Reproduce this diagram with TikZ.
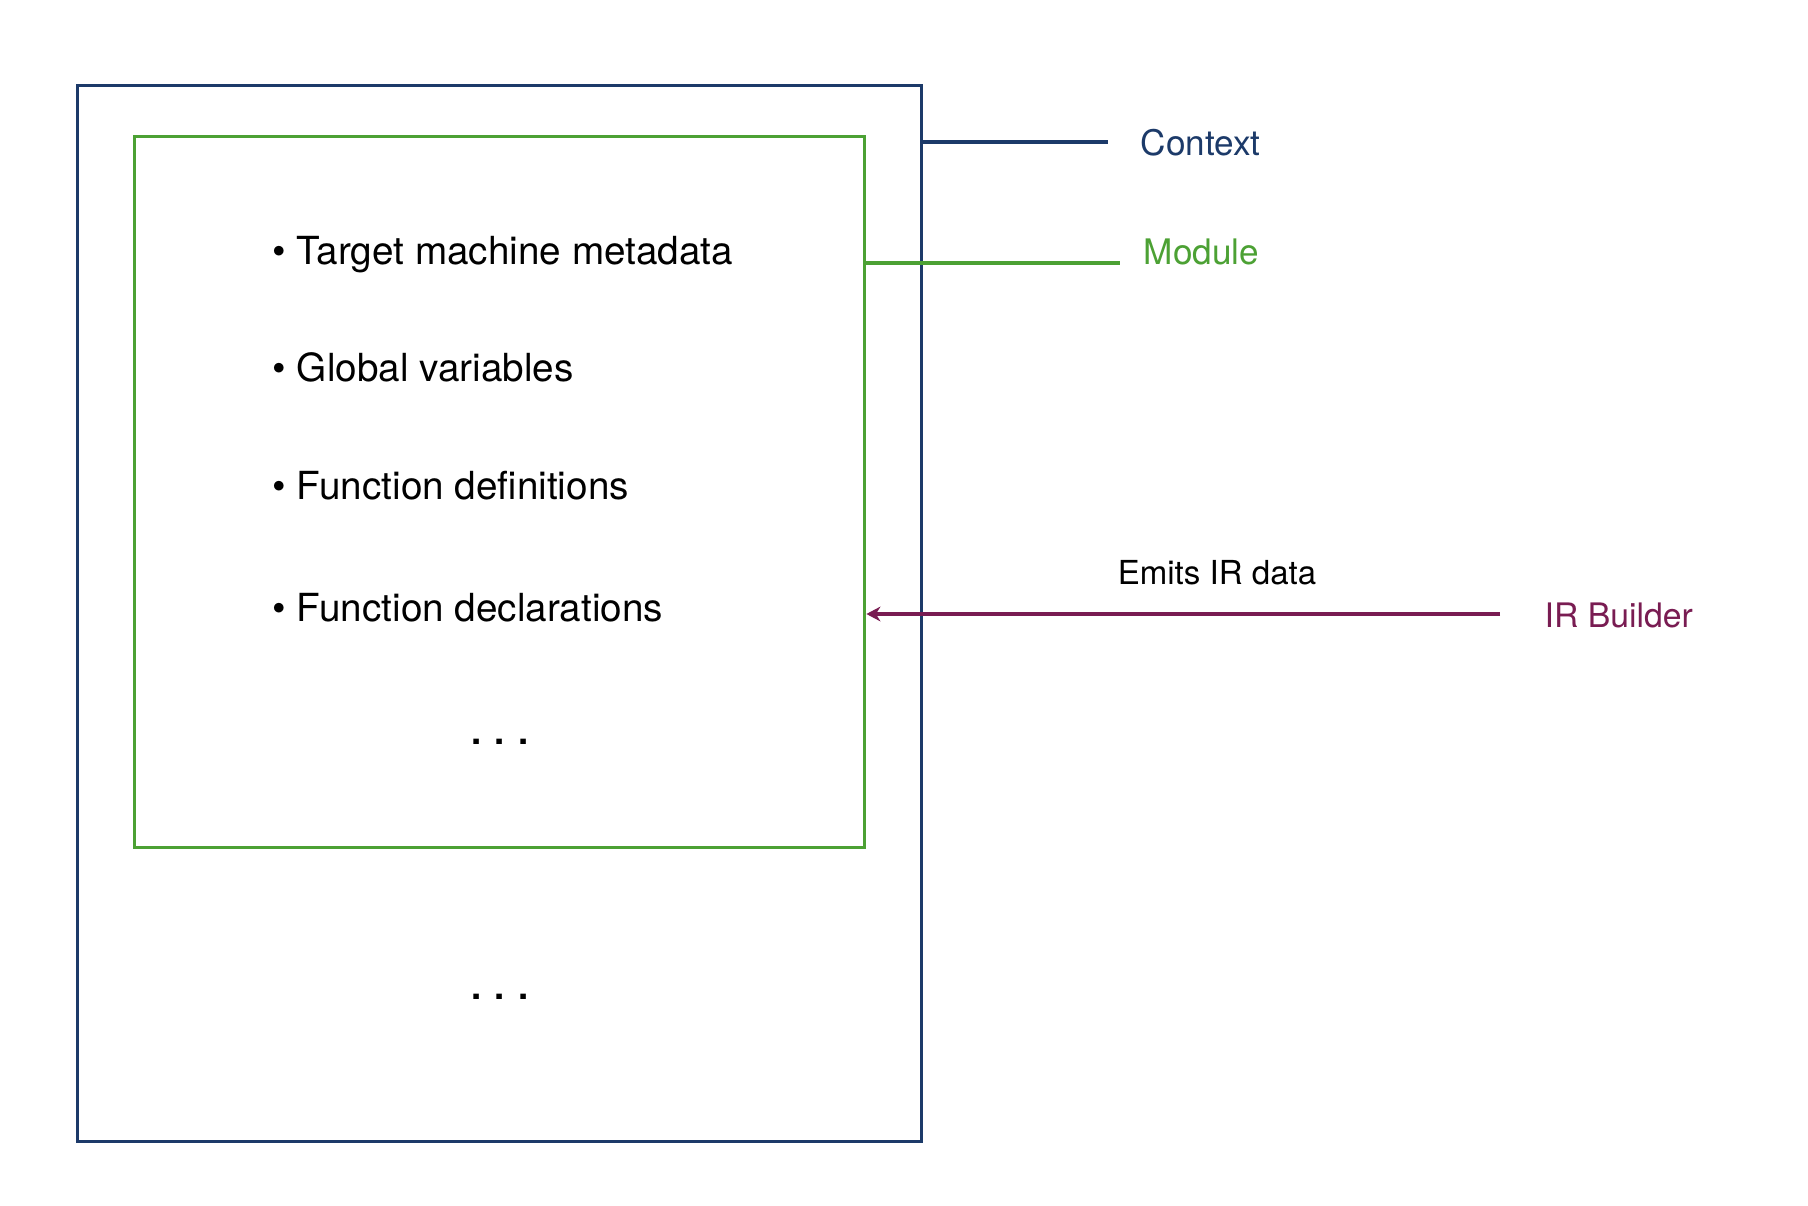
\documentclass[tikz,border=0pt]{standalone}
\usepackage{fontspec}
\setmainfont{TeX Gyre Heros}
\usetikzlibrary{arrows.meta, positioning}
\definecolor{ctxBlue}{RGB}{28, 58, 105}
\definecolor{modGreen}{RGB}{76, 161, 52}
\definecolor{irPurple}{RGB}{121, 28, 82}

\begin{document}
\begin{tikzpicture} [
        x=0.01cm, y=-0.01cm,
        ctx/.style={draw=ctxBlue, line width=0.95pt},
        mod/.style={draw=modGreen, line width=0.95pt},
        item/.style={anchor=base west, inner sep=0pt, font=\fontsize{11}{13}\selectfont},
        dots/.style={anchor=base, inner sep=0pt, font=\bfseries\fontsize{10.4}{12}\selectfont},
        lbl/.style={anchor=west, inner sep=0pt, font=\fontsize{10}{12}\selectfont}
    ]
        \useasboundingbox (0, 0) rectangle (1808, 1206);

        % CONTEXT + MODULE boxes
        \node [ctx, minimum width=8.43cm, minimum height=10.55cm] (context) at (499.5, 613.5) {};
        \node [mod, minimum width=7.30cm, minimum height=7.10cm] (module) at (499.5, 492) {};

        % module content
        \foreach \y/\txt [count=\i] in {264/Target machine metadata, 381/Global variables, 499/Function definitions, 621/Function declarations} {
            \node [item] (item\i) at (272, \y) {\textbullet\ \txt};
        }
        \node [dots] (moddots) at (500, 744) {. . .};
        \node [dots] (ctxdots) at (500, 999) {. . .};

        % LABELS
        \node [lbl, text=ctxBlue] (ctxlabel) at (1140, 143) {Context};
        \node [lbl, text=modGreen] (modlabel) at (1143, 252) {Module};
        \node [lbl, text=irPurple, font=\fontsize{9.6}{12}\selectfont] (irbuilder) at (1544, 615) {IR Builder};
        \node [font=\fontsize{9.4}{12}\selectfont] (emits) at (1217, 573) {Emits IR data};

        \coordinate (ctxend) at (1108, 142);
        \coordinate (modend) at (1120, 263);
        \coordinate (irstart) at (1500, 614);

        \draw [ctx] (context.east |- ctxend) -- (ctxend);
        \draw [mod] (module.east |- modend) -- (modend);
        \draw [irPurple, line width=0.95pt, -{Stealth[length=4pt, width=4.2pt]}] (irstart) -- (module.east |- irstart);

    \end{tikzpicture}
\end{document}
